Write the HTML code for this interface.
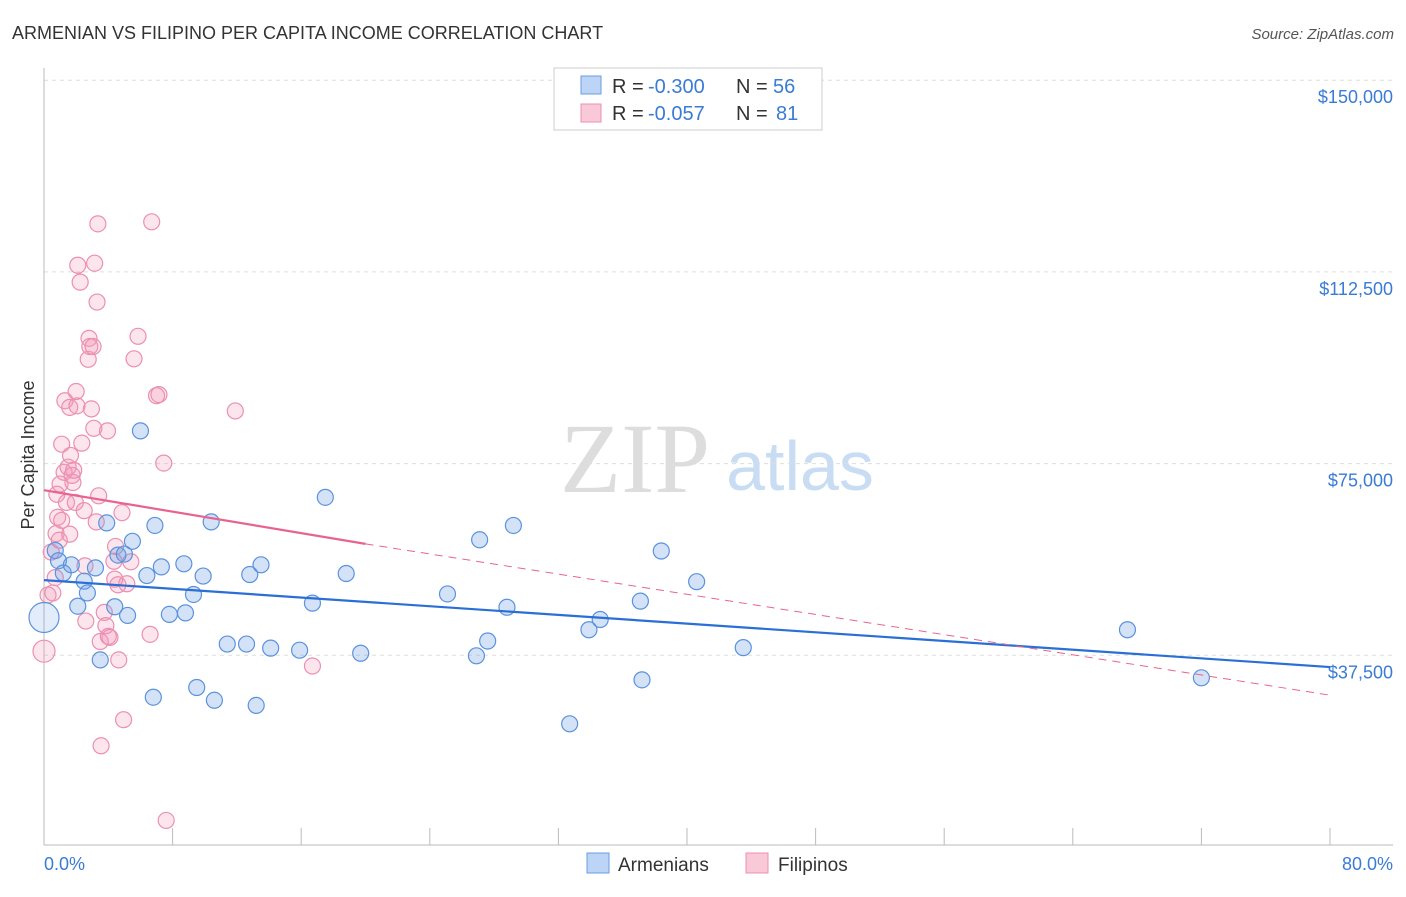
<!DOCTYPE html>
<html><head><meta charset="utf-8">
<style>
body{margin:0;background:#fff;font-family:"Liberation Sans",sans-serif;}
svg text{font-family:"Liberation Sans",sans-serif;}
</style></head>
<body>
<svg id="chart" width="1406" height="892">
<text x="12" y="39" font-size="18" fill="#333">ARMENIAN VS FILIPINO PER CAPITA INCOME CORRELATION CHART</text>
<text x="1394" y="39" font-size="15" fill="#555" font-style="italic" text-anchor="end">Source: ZipAtlas.com</text>
<text x="635" y="492" font-size="100" fill="#ddd" text-anchor="middle" style="font-family:'Liberation Serif',serif">ZIP</text>
<text x="800" y="490" font-size="70" fill="#c8dcf3" text-anchor="middle">atlas</text>
<g id="grid"></g>
<g id="marks"></g>
<text x="34" y="455" font-size="18" fill="#333" text-anchor="middle" transform="rotate(-90 34 455)">Per Capita Income</text>
<text x="44" y="870" font-size="18" fill="#3a7bd5">0.0%</text>
<text x="1393" y="870" font-size="18" fill="#3a7bd5" text-anchor="end">80.0%</text>
<g>
<rect x="554" y="68" width="268" height="62" fill="#fff" stroke="#ccc"/>
<rect x="581" y="76" width="20" height="18" fill="#bcd4f5" stroke="#6a9ee0"/>
<rect x="581" y="104" width="20" height="18" fill="#f9c9d8" stroke="#ec8fb0"/>
<text x="612" y="93" font-size="20" fill="#333">R =</text>
<text x="648" y="93" font-size="20" fill="#3a7bd5">-0.300</text>
<text x="736" y="93" font-size="20" fill="#333">N =</text>
<text x="773" y="93" font-size="20" fill="#3a7bd5">56</text>
<text x="612" y="120" font-size="20" fill="#333">R =</text>
<text x="648" y="120" font-size="20" fill="#3a7bd5">-0.057</text>
<text x="736" y="120" font-size="20" fill="#333">N =</text>
<text x="776" y="120" font-size="20" fill="#3a7bd5">81</text>
</g>
<g>
<rect x="587" y="853" width="22" height="20" fill="#bcd4f5" stroke="#6a9ee0"/>
<text x="618" y="871" font-size="19" fill="#333">Armenians</text>
<rect x="746" y="853" width="22" height="20" fill="#f9c9d8" stroke="#ec8fb0"/>
<text x="778" y="871" font-size="19" fill="#333">Filipinos</text>
</g>
</svg>
<script>
const yTicks=[37500,75000,112500,150000];
const yTickLabels=["$37,500","$75,000","$112,500","$150,000"];
const armX=[0,0.7,0.9,1.2,1.7,2.1,2.5,2.7,3.2,3.5,3.9,4.4,4.6,5.0,5.2,5.5,6.0,6.4,6.8,6.9,7.3,7.8,8.7,8.8,9.3,9.5,9.9,10.4,10.6,11.4,12.6,12.8,13.2,13.5,14.1,15.9,16.7,17.5,18.8,19.7,25.1,26.9,27.1,27.6,28.8,29.2,32.7,33.9,34.6,37.1,37.2,38.4,40.6,43.5,67.4,72.0];
const armY=[44900,58000,56000,53600,55200,47100,52000,49700,54600,36600,63400,47000,57100,57300,45300,59800,81400,53100,29300,62900,54800,45500,55400,45800,49400,31200,53000,63600,28700,39700,39700,53300,27700,55200,38900,38500,47700,68400,53500,37900,49500,37400,60100,40300,46900,62900,24100,42500,44500,48100,32700,57900,51900,39000,42500,33100];
const filX=[0,0.25,0.45,0.55,0.7,0.75,0.8,0.85,0.95,1.0,1.1,1.25,1.3,1.4,1.5,1.6,1.65,1.75,1.8,1.95,2.0,2.05,2.1,2.25,2.35,2.5,2.55,2.6,2.75,2.8,2.85,2.95,3.05,3.1,3.15,3.25,3.3,3.35,3.4,3.5,3.55,3.75,3.85,3.95,4.0,4.1,4.35,4.45,4.6,4.65,4.85,4.95,5.15,5.4,5.6,5.85,6.6,6.7,7.0,7.15,7.45,7.6,11.9,16.7,4.4,1.1,1.6,1.85];
const filY=[38300,49300,57700,49700,52700,61300,69000,64500,60000,71000,78800,73300,87300,67400,74300,86000,76600,72700,71300,67400,89100,86300,113800,110500,79000,65800,55000,44200,95400,99500,97900,85700,97900,81900,114200,63600,106600,121900,68700,40200,19800,45900,43300,81400,41200,41000,55900,58800,51300,36600,65400,24900,51500,55800,95500,99900,41600,122300,88300,88500,75100,5200,85300,35400,52400,63900,61200,73700];
const blueLine=[0,52200,80,35200];
const pinkLine=[0,69800,20,59300,80,29700];
const L=44,R=1330,Y0=847,S=191.7/37500;
const X=v=>L+v*(R-L)/80, Y=v=>Y0-v*S;
const NS="http://www.w3.org/2000/svg";
function mk(t,a,p){const e=document.createElementNS(NS,t);for(const k in a)e.setAttribute(k,a[k]);p.appendChild(e);return e;}
const g=document.getElementById('grid'),m=document.getElementById('marks');
yTicks.forEach((t,i)=>{
 const ln=mk('line',{x1:L,x2:1393,y1:Y(t),y2:Y(t),stroke:'#ddd','stroke-dasharray':'4,4'},g);
 
 
 const tx=mk('text',{x:1393,y:Y(t)+23,'font-size':18,fill:'#3a7bd5','text-anchor':'end'},g);
 tx.textContent=yTickLabels[i];
 
 
});
const ax=mk('line',{x1:L,x2:L,y1:68,y2:845,stroke:'#bbb'},g);


const bx=mk('line',{x1:L,x2:1393,y1:845,y2:845,stroke:'#bbb'},g);


for(let i=0;i<=10;i++){const t=mk('line',{x1:X(i*8),x2:X(i*8),y1:828,y2:845,stroke:'#bbb'},g);
 
 }
filX.forEach((x,i)=>{const c=mk('circle',{cx:X(x),cy:Y(filY[i]),r:i==0?11:8,fill:'rgba(244,150,185,0.25)',stroke:'#ec8fb0','stroke-width':1.2},m);
 
 });
armX.forEach((x,i)=>{const c=mk('circle',{cx:X(x),cy:Y(armY[i]),r:i==0?15:8,fill:i==0?'rgba(110,160,230,0.2)':'rgba(110,160,230,0.3)',stroke:'#5b92dd','stroke-width':1.2},m);
 
 });
const bl=mk('line',{x1:X(blueLine[0]),y1:Y(blueLine[1]),x2:X(blueLine[2]),y2:Y(blueLine[3]),stroke:'#2a6fd6','stroke-width':2.2},m);


const pl=mk('line',{x1:X(pinkLine[0]),y1:Y(pinkLine[1]),x2:X(pinkLine[2]),y2:Y(pinkLine[3]),stroke:'#e8648f','stroke-width':2.2},m);


const pd=mk('line',{x1:X(pinkLine[2]),y1:Y(pinkLine[3]),x2:X(pinkLine[4]),y2:Y(pinkLine[5]),stroke:'#e8648f','stroke-width':1,'stroke-dasharray':'8,6'},m);


</script>
</body></html>
